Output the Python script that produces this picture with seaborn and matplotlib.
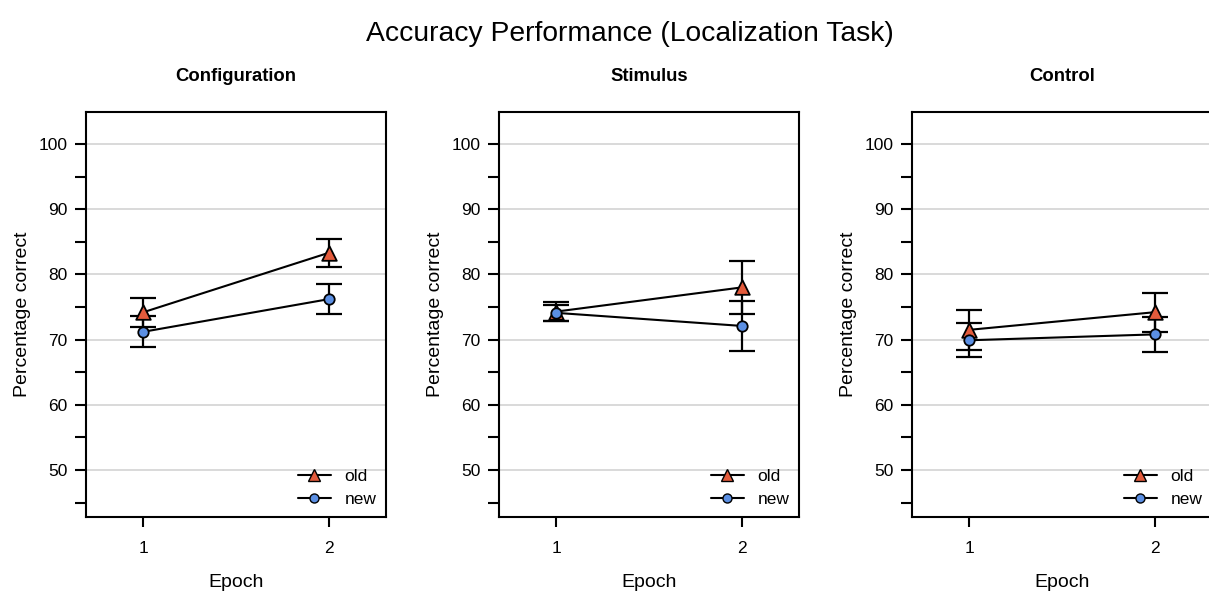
import numpy as np
import pandas as pd
import matplotlib
matplotlib.use("Agg")
import matplotlib.pyplot as plt
import seaborn as sns
from matplotlib.lines import Line2D

sns.set_theme(style="white", rc={"text.color": "black", "axes.labelcolor": "black",
                                 "xtick.color": "black", "ytick.color": "black"})
plt.rcParams['font.family'] = ['Liberation Sans', 'DejaVu Sans']

panels = ["Configuration", "Stimulus", "Control"]
epochs = [1, 2]
old_mean = [[74.2, 83.3], [74.3, 78.0], [71.5, 74.2]]
old_err = [[2.2, 2.1], [1.4, 4.0], [3.1, 3.0]]
new_mean = [[71.2, 76.2], [74.1, 72.1], [69.9, 70.8]]
new_err = [[2.4, 2.3], [1.2, 3.8], [2.6, 2.7]]
groups = ["old", "new"]

old_color = "#E35B3C"
new_color = "#5B8FE3"

W, H = 1209, 591
fig = plt.figure(figsize=(W / 100, H / 100), dpi=100)

lefts = [86, 499, 912]
ax_w = 300
ax_bottom, ax_top = 517, 112

for i, name in enumerate(panels):
    ax = fig.add_axes([lefts[i] / W, (H - ax_bottom) / H, ax_w / W, (ax_bottom - ax_top) / H])
    rows = []
    for g, m, e in (("old", old_mean[i], old_err[i]), ("new", new_mean[i], new_err[i])):
        for ep, mv, ev in zip(epochs, m, e):
            rows.append({"Epoch": ep, "value": mv, "err": ev, "group": g})
    df = pd.DataFrame(rows)

    for g in groups:
        d = df[df.group == g]
        ax.errorbar(d["Epoch"], d["value"], yerr=d["err"], fmt="none", ecolor="black",
                    elinewidth=1.6, capsize=9.5, capthick=1.6, zorder=2)

    sns.lineplot(data=df, x="Epoch", y="value", hue="group", style="group",
                 hue_order=groups, style_order=groups,
                 palette={"old": "black", "new": "black"},
                 markers={"old": "^", "new": "o"}, dashes=False,
                 linewidth=1.5, ax=ax, legend=False, zorder=3, markersize=0)
    for g, mk, col, ms in (("old", "^", old_color, 10.5), ("new", "o", new_color, 7.5)):
        d = df[df.group == g]
        sns.scatterplot(x=d["Epoch"], y=d["value"], marker=mk, color=col, edgecolor="black",
                        linewidth=1.3, s=ms ** 2, ax=ax, zorder=4, legend=False)

    ax.set_xlim(0.69, 2.31)
    ax.set_ylim(42.8, 104.9)
    ax.set_xticks(epochs)
    ax.set_yticks(np.arange(45, 101, 5))
    ax.set_yticklabels([str(v) if v % 10 == 0 else "" for v in range(45, 101, 5)])
    for v in range(50, 101, 10):
        ax.axhline(v, color="#D3D3D3", lw=1.2, zorder=1)
    ax.tick_params(axis="both", direction="out", width=1.5, colors="black",
                   labelsize=12.5, left=True, bottom=True)
    ax.tick_params(axis="y", length=8, pad=5.5)
    ax.tick_params(axis="x", length=7, pad=10.5)
    for s in ax.spines.values():
        s.set_linewidth(1.5)
        s.set_color("black")
    ax.set_xlabel("Epoch", fontsize=14, labelpad=13)
    ax.set_ylabel("Percentage correct", fontsize=14, labelpad=5)
    ax.set_title(name, fontsize=13.3, fontweight="bold", pad=22)

    handles = [Line2D([], [], color="black", lw=1.5, marker="^", markersize=9,
                      markerfacecolor=old_color, markeredgecolor="black"),
               Line2D([], [], color="black", lw=1.5, marker="o", markersize=6.5,
                      markerfacecolor=new_color, markeredgecolor="black")]
    ax.legend(handles, groups, loc="lower right", frameon=False, fontsize=12.5,
              handlelength=1.9, handletextpad=0.8, labelspacing=0.45,
              borderaxespad=0.15)

fig.suptitle("Accuracy Performance (Localization Task)", fontsize=20.3, x=0.5207, y=0.965)
fig.savefig("out.png", dpi=100)
